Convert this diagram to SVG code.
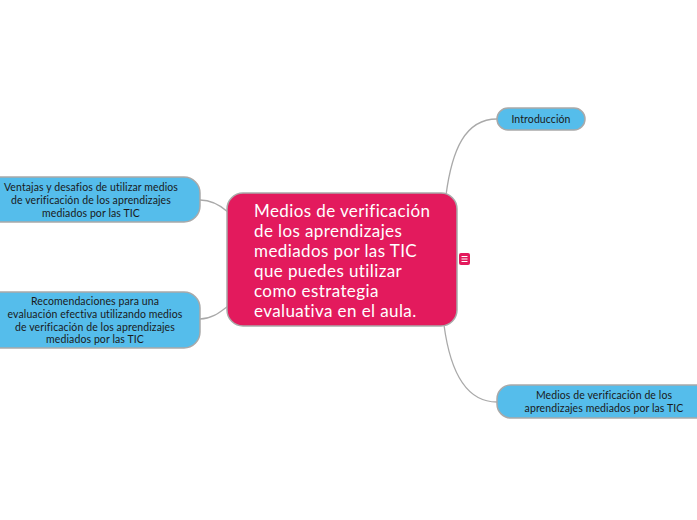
<svg xmlns="http://www.w3.org/2000/svg" width="697" height="520" viewBox="0 0 697 520">
<style>
.sub{fill:#55bdeb;stroke:#a9a9a9;stroke-width:1.5}
.st{font-family:Lato,"Noto Sans",sans-serif;font-size:10.5px;letter-spacing:0.1px;fill:#1a1a1a;text-anchor:middle}
.mt{font-family:Lato,"Noto Sans",sans-serif;font-size:17px;letter-spacing:0.4px;fill:#ffffff}
.cn{fill:none;stroke:#a9a9a9;stroke-width:1.3}
</style>
<rect width="697" height="520" fill="#ffffff"/>
<g id="connectors">
<path class="cn" d="M497,119 C465,119 452,150 446,195"/>
<path class="cn" d="M497,402 C465,402 450,370 444,325"/>
<path class="cn" d="M200,200 C212,200 220,205 228,212"/>
<path class="cn" d="M200,319 C212,319 220,312 228,306"/>
</g>
<g id="central">
<rect x="227" y="193" width="230" height="133" rx="16" fill="#e31a5d" stroke="#a9a9a9" stroke-width="1.5"/>
<text class="mt" x="254" y="217">Medios de verificación</text>
<text class="mt" x="254" y="237">de los aprendizajes</text>
<text class="mt" x="254" y="257">mediados por las TIC</text>
<text class="mt" x="254" y="277">que puedes utilizar</text>
<text class="mt" x="254" y="297">como estrategia</text>
<text class="mt" x="254" y="317">evaluativa en el aula.</text>
</g>
<g id="note-icon">
<rect x="459" y="253" width="11" height="12" rx="2" fill="#e31a5d"/>
<path d="M461.5,256.5 h6 M461.5,259 h6 M461.5,261.5 h6" stroke="#ffffff" stroke-width="1"/>
</g>
<g id="intro">
<rect class="sub" x="497" y="108" width="88" height="22" rx="11"/>
<text class="st" x="541" y="123">Introducción</text>
</g>
<g id="medios">
<rect class="sub" x="497" y="385" width="215" height="33" rx="14"/>
<text class="st" x="604" y="399">Medios de verificación de los</text>
<text class="st" x="604" y="412">aprendizajes mediados por las TIC</text>
</g>
<g id="ventajas">
<rect class="sub" x="-15" y="177" width="215" height="45" rx="16"/>
<text class="st" x="91" y="191">Ventajas y desafios de utilizar medios</text>
<text class="st" x="91" y="204">de verificación de los aprendizajes</text>
<text class="st" x="91" y="217">mediados por las TIC</text>
</g>
<g id="recomendaciones">
<rect class="sub" x="-15" y="292" width="215" height="56" rx="16"/>
<text class="st" x="95" y="305">Recomendaciones para una</text>
<text class="st" x="95" y="318">evaluación efectiva utilizando medios</text>
<text class="st" x="95" y="331">de verificación de los aprendizajes</text>
<text class="st" x="95" y="343">mediados por las TIC</text>
</g>
</svg>
